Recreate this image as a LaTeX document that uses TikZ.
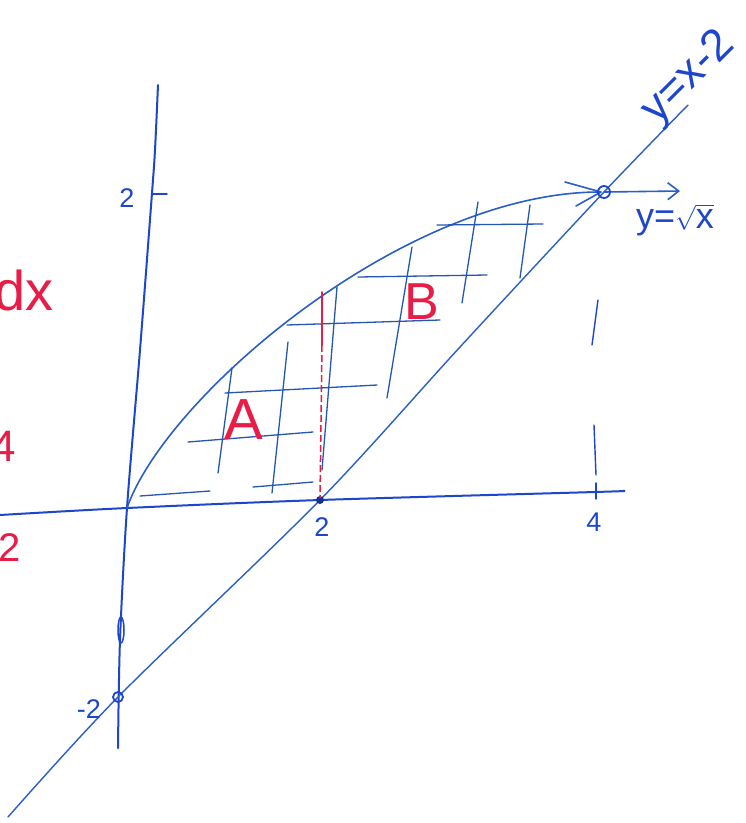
\documentclass[tikz,border=0pt]{standalone}
\usepackage{fontspec}
\setmainfont{Liberation Sans}
\usetikzlibrary{arrows.meta}
\definecolor{ink}{RGB}{40,95,200}
\definecolor{axisink}{RGB}{30,70,205}
\definecolor{redink}{RGB}{232,28,70}
\tikzset{
  curveline/.style={draw=ink,line width=1.6pt,line cap=round,line join=round},
  axisline/.style={draw=axisink,line width=2pt,line cap=round,line join=round},
  hatch/.style={draw=ink!90!black,line width=1.3pt,line cap=round},
  bluelabel/.style={text=axisink,font=\fontsize{27}{29}\selectfont,inner sep=0pt},
  redlabel/.style={text=redink,inner sep=0pt},
}
\begin{document}
\begin{tikzpicture}[x=1pt,y=-1pt]
\useasboundingbox[fill=white] (0,0) rectangle (746,823);
% axes
\draw[axisline] plot[smooth] coordinates {(0,515) (127,508) (320,500) (595,492) (622,491)};
\draw[axisline] plot[smooth] coordinates {(158,85) (155,150) (152,193) (140,350) (127,508) (120,640) (118,748)};
\coordinate (O) at (127,508);
\coordinate (X2) at (320,500);
\coordinate (P) at (604,192);
\coordinate (Q) at (118,697);
% ticks
\draw[axisline,line width=1.4pt] (152,194) -- (167,194);
\draw[axisline,line width=1.4pt] (598,300) -- (592,345);
\draw[axisline,line width=1.4pt] (594,425) -- (596,475);
\draw[axisline,line width=1.4pt] (596,483) -- (596,499);
% y = sqrt x
\draw[curveline] (O) .. controls (166,396) and (405,192) .. (600,192);
\draw[curveline] (565,182) -- (601,192) -- (576,206);
\draw[curveline,-{Straight Barb[length=11pt,width=17pt,line width=1.6pt]}] (P) -- (680,191);
% y = x - 2
\draw[curveline,line width=1.4pt] plot[smooth] coordinates {(8,817) (118,697) (320,500) (460,347) (604,192) (688,105)};
% points
\draw[axisline,line width=1.8pt] (P) circle (6);
\draw[axisline,line width=1.8pt] (Q) circle (5);
\draw[axisline,line width=1.5pt] (121,630) ellipse (3 and 13);
\fill[axisink!70!black] (X2) circle (4);
% hatching horizontal
\draw[hatch] (437,225) -- (543,224);
\draw[hatch] (358,277) -- (487,275);
\draw[hatch] (287,325) -- (440,320);
\draw[hatch] (225,393) -- (377,385);
\draw[hatch] (188,442) -- (313,432);
\draw[hatch] (140,496) -- (210,491);
\draw[hatch] (253,487) -- (313,482);
% hatching vertical
\draw[hatch] (232,368) -- (218,473);
\draw[hatch] (288,342) -- (272,493);
\draw[hatch] (337,287) -- (322,470);
\draw[hatch] (412,247) -- (387,398);
\draw[hatch] (478,202) -- (462,303);
\draw[hatch] (530,205) -- (520,278);
% red split line
\draw[redink,line width=1.5pt,line cap=round] (322,292) -- (322,345);
\draw[redink,line width=1.5pt,dash pattern=on 7pt off 3pt] (322,345) -- (320,498);
% red labels
\node[redlabel,font=\fontsize{58}{60}\selectfont] (A) at (244,420) {A};
\node[redlabel,font=\fontsize{52}{54}\selectfont] (B) at (422,302) {B};
\node[redlabel,font=\fontsize{56}{58}\selectfont,anchor=east] (dx) at (54,290) {dx};
\node[redlabel,font=\fontsize{44}{46}\selectfont,anchor=east] (four) at (16,446) {4};
\node[redlabel,font=\fontsize{40}{42}\selectfont,anchor=east] (two) at (21,548) {2};
% axis labels
\node[bluelabel] (ly2) at (127,198) {2};
\node[bluelabel] (lx2) at (322,527) {2};
\node[bluelabel] (lx4) at (594,522) {4};
\node[bluelabel] (lym2) at (89,709) {-2};
% curve labels
\node[text=axisink,font=\fontsize{36}{38}\selectfont,inner sep=0pt] (lsq) at (675,220) {y=$\sqrt{\hbox{x}}$};
\node[text=axisink,font=\fontsize{45}{47}\selectfont,inner sep=0pt,rotate=45] (llin) at (689,78) {y=x-2};
\end{tikzpicture}
\end{document}
